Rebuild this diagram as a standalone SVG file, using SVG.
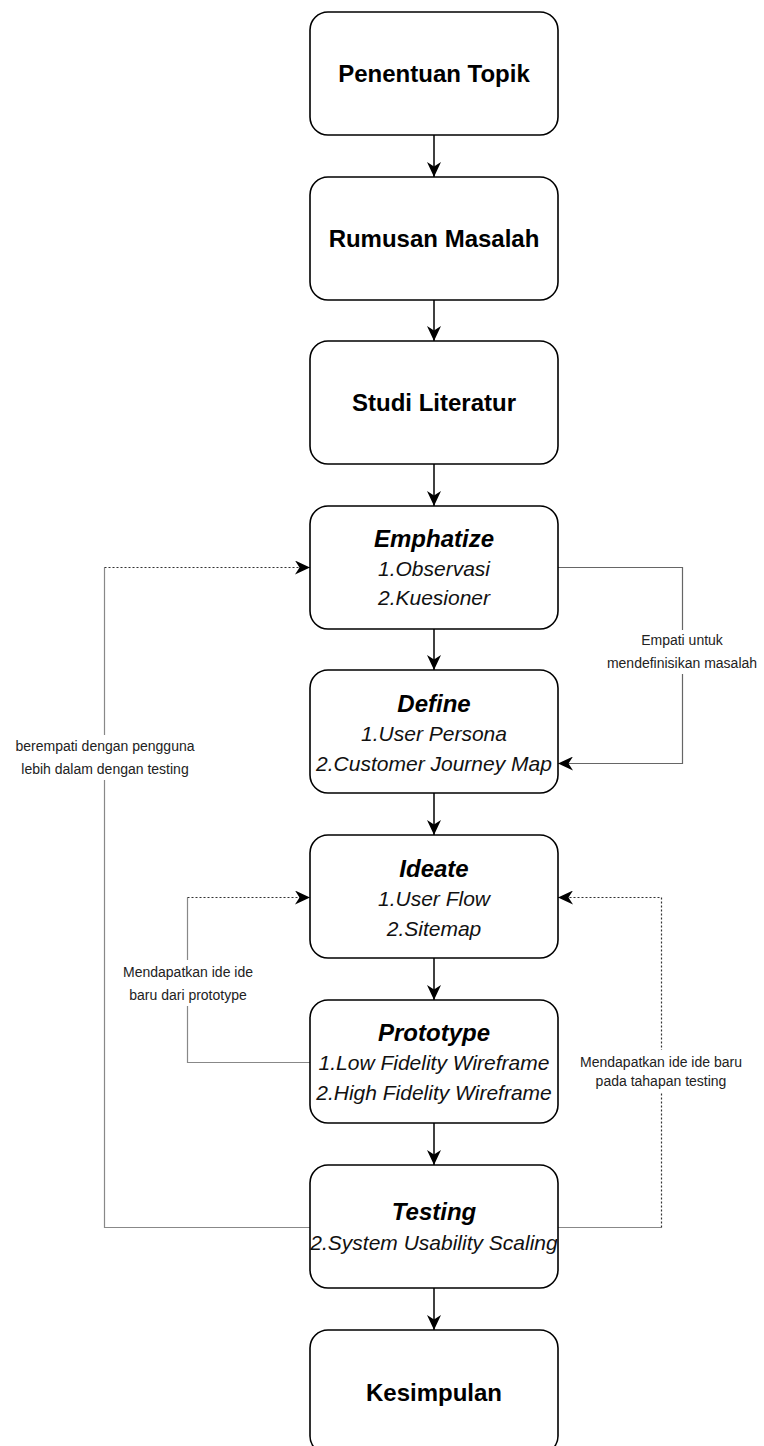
<svg xmlns="http://www.w3.org/2000/svg" width="764" height="1446" viewBox="0 0 764 1446">
<style>
.box{fill:#fff;stroke:#000;stroke-width:1.6}
.t{font-family:"Liberation Sans",Arial,sans-serif;font-size:24px;font-weight:bold;fill:#000;text-anchor:middle}
.ti{font-family:"Liberation Sans",Arial,sans-serif;font-size:24px;font-weight:bold;font-style:italic;fill:#000;text-anchor:middle}
.it{font-family:"Liberation Sans",Arial,sans-serif;font-size:21px;font-style:italic;fill:#111;text-anchor:middle}
.lbl{font-family:"Liberation Sans",Arial,sans-serif;font-size:14px;fill:#222;text-anchor:middle}
.main{fill:none;stroke:#000;stroke-width:1.5}
.grey{fill:none;stroke:#888;stroke-width:1.2}
.solid{fill:none;stroke:#666;stroke-width:1.2}
.dot{fill:none;stroke:#333;stroke-width:1.2;stroke-dasharray:2 2}
.bg{fill:#fff}
</style>
<defs>
<marker id="arr" viewBox="0 0 15 14" refX="15" refY="7" markerWidth="15" markerHeight="14" markerUnits="userSpaceOnUse" orient="auto">
<path d="M0,0 L15,7 L0,14 L4.5,7 Z" fill="#000"/>
</marker>
</defs>
<g id="connectors">
<path class="main" d="M434,135 V177" marker-end="url(#arr)"/>
<path class="main" d="M434,300 V341" marker-end="url(#arr)"/>
<path class="main" d="M434,464 V506" marker-end="url(#arr)"/>
<path class="main" d="M434,629 V670" marker-end="url(#arr)"/>
<path class="main" d="M434,793 V835" marker-end="url(#arr)"/>
<path class="main" d="M434,958 V1000" marker-end="url(#arr)"/>
<path class="main" d="M434,1123 V1165" marker-end="url(#arr)"/>
<path class="main" d="M434,1288 V1330" marker-end="url(#arr)"/>
<path class="solid" d="M558,567.5 H682.5 V763.5 H558" marker-end="url(#arr)"/>
<path class="grey" d="M310,1227.5 H104.5 V567.5"/>
<path class="dot" d="M104.5,567.5 H310" marker-end="url(#arr)"/>
<path class="grey" d="M310,1062.5 H187.5 V897.5"/>
<path class="dot" d="M187.5,897.5 H310" marker-end="url(#arr)"/>
<path class="grey" d="M558,1227.5 H661.5"/>
<path class="dot" d="M661.5,1227.5 V897.5 H558" marker-end="url(#arr)"/>
<rect class="bg" x="604" y="630" width="157" height="44"/>
<text class="lbl" x="682" y="645">Empati untuk</text>
<text class="lbl" x="682" y="668">mendefinisikan masalah</text>
<rect class="bg" x="12" y="735" width="187" height="45"/>
<text class="lbl" x="105" y="751">berempati dengan pengguna</text>
<text class="lbl" x="105" y="774">lebih dalam dengan testing</text>
<rect class="bg" x="120" y="960" width="136" height="46"/>
<text class="lbl" x="188" y="977">Mendapatkan ide ide</text>
<text class="lbl" x="188" y="1000">baru dari prototype</text>
<rect class="bg" x="579" y="1050" width="165" height="42"/>
<text class="lbl" x="661" y="1067">Mendapatkan ide ide baru</text>
<text class="lbl" x="661" y="1086">pada tahapan testing</text>
</g>
<g id="n1"><rect class="box" x="310" y="12" width="248" height="123" rx="18"/><text class="t" x="434" y="82">Penentuan Topik</text></g>
<g id="n2"><rect class="box" x="310" y="177" width="248" height="123" rx="18"/><text class="t" x="434" y="247">Rumusan Masalah</text></g>
<g id="n3"><rect class="box" x="310" y="341" width="248" height="123" rx="18"/><text class="t" x="434" y="411">Studi Literatur</text></g>
<g id="n4"><rect class="box" x="310" y="506" width="248" height="123" rx="18"/><text class="ti" x="434" y="546.5">Emphatize</text><text class="it" x="434" y="575.5">1.Observasi</text><text class="it" x="434" y="604.5">2.Kuesioner</text></g>
<g id="n5"><rect class="box" x="310" y="670" width="248" height="123" rx="18"/><text class="ti" x="434" y="711.5">Define</text><text class="it" x="434" y="740.5">1.User Persona</text><text class="it" x="434" y="770.5">2.Customer Journey Map</text></g>
<g id="n6"><rect class="box" x="310" y="835" width="248" height="123" rx="18"/><text class="ti" x="434" y="876.5">Ideate</text><text class="it" x="434" y="905.5">1.User Flow</text><text class="it" x="434" y="935.5">2.Sitemap</text></g>
<g id="n7"><rect class="box" x="310" y="1000" width="248" height="123" rx="18"/><text class="ti" x="434" y="1040.5">Prototype</text><text class="it" x="434" y="1069.5">1.Low Fidelity Wireframe</text><text class="it" x="434" y="1099.5">2.High Fidelity Wireframe</text></g>
<g id="n8"><rect class="box" x="310" y="1165" width="248" height="123" rx="18"/><text class="ti" x="434" y="1219.5">Testing</text><text class="it" x="434" y="1249.5">2.System Usability Scaling</text></g>
<g id="n9"><rect class="box" x="310" y="1330" width="248" height="124" rx="18"/><text class="t" x="434" y="1400.5">Kesimpulan</text></g>
</svg>
